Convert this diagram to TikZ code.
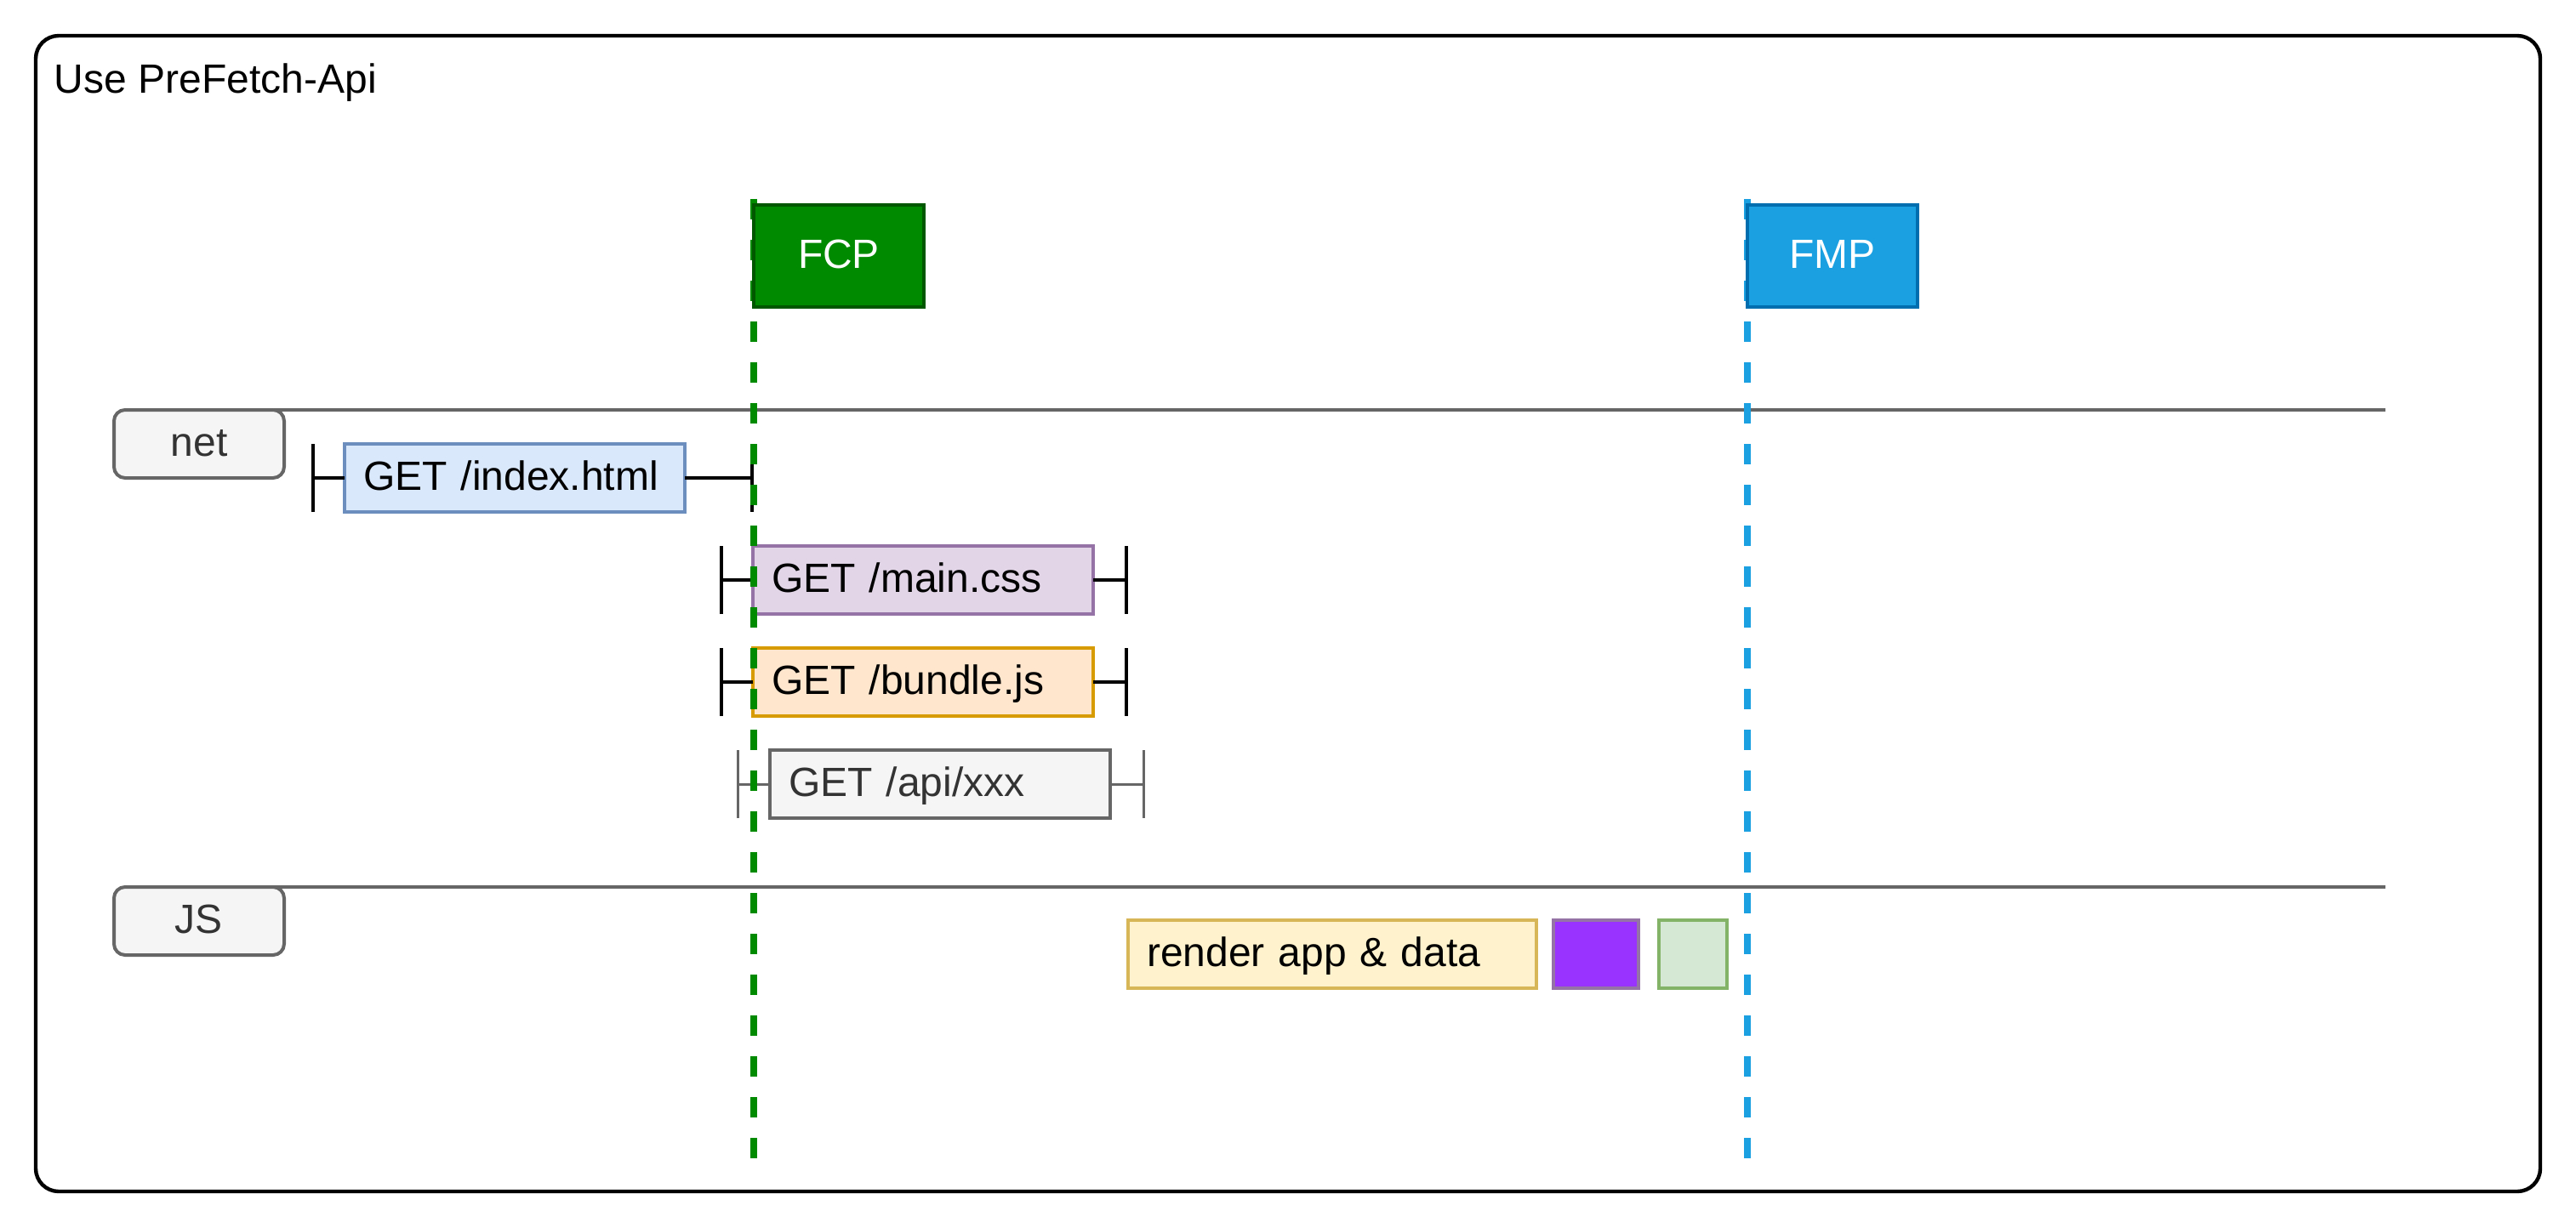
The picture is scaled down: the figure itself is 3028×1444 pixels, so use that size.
\documentclass[tikz,border=0pt]{standalone}
\usepackage{fontspec}
\setmainfont{Liberation Sans}
\usetikzlibrary{arrows.meta}

\definecolor{fcpfill}{HTML}{008A00}
\definecolor{fcpdraw}{HTML}{005700}
\definecolor{fmpfill}{HTML}{1BA1E2}
\definecolor{fmpdraw}{HTML}{006EAF}
\definecolor{lanegray}{HTML}{666666}
\definecolor{labelfill}{HTML}{F5F5F5}
\definecolor{labeltext}{HTML}{333333}
\definecolor{htmlfill}{HTML}{DAE8FC}
\definecolor{htmldraw}{HTML}{6C8EBF}
\definecolor{cssfill}{HTML}{E1D5E7}
\definecolor{cssdraw}{HTML}{9673A6}
\definecolor{jsfill}{HTML}{FFE6CC}
\definecolor{jsdraw}{HTML}{D79B00}
\definecolor{renderfill}{HTML}{FFF2CC}
\definecolor{renderdraw}{HTML}{D6B656}
\definecolor{violet}{HTML}{9933FF}
\definecolor{donefill}{HTML}{D5E8D4}
\definecolor{donedraw}{HTML}{82B366}

\begin{document}
\begin{tikzpicture}[x=0.25pt, y=-0.25pt,
		every node/.style={font=\fontsize{12}{14}\selectfont, inner sep=0pt, outer sep=0pt, text height=9pt, text depth=2pt},
		box/.style={draw, line width=1pt, anchor=north west, minimum width=100pt, minimum height=20pt},
		req/.style={box, text width=89pt, inner xsep=5.5pt, align=left},
		lanelabel/.style={box, fill=labelfill, draw=lanegray, text=labeltext, minimum width=50pt, rounded corners=3.25pt},
		lane/.style={draw=lanegray, line width=0.9pt},
		tick/.style={line width=1pt, -{Bar[width=20pt]}},
		marker/.style={box, text=white, minimum width=50pt, minimum height=30pt},
		timeline/.style={line width=2pt, dash pattern=on 6pt off 6pt}]
				\useasboundingbox (0,0) rectangle (3028,1444);

				% Frame
				\draw[line width=1.1pt, rounded corners=6.75pt] (42,42) rectangle (2986,1401);
				\node[anchor=base west] (title) at (64,110) {Use PreFetch-Api};

				% Lanes
				\coordinate (netend) at (2804,482);
				\coordinate (jsend) at (2804,1043);
				\node[lanelabel] (net) at (134,482) {net};
				\node[lanelabel] (js) at (134,1043) {JS};
				\draw[lane] ([xshift=-3.25pt]net.north east) -- (netend);
				\draw[lane] ([xshift=-3.25pt]js.north east) -- (jsend);

				% Requests
				\node[req, fill=htmlfill, draw=htmldraw] (index) at (405,522) {GET /index.html};
				\node[req, fill=cssfill, draw=cssdraw] (css) at (885,642) {GET /main.css};
				\node[req, fill=jsfill, draw=jsdraw] (bundle) at (885,762) {GET /bundle.js};
				\node[req, fill=labelfill, draw=lanegray, text=labeltext] (api) at (905,882) {GET /api/xxx};

				% Request spans
				\coordinate (indexL) at (366,562);
				\coordinate (indexR) at (886,562);
				\coordinate (cssL) at (846,682);
				\coordinate (cssR) at (1326,682);
				\coordinate (bundleL) at (846,802);
				\coordinate (bundleR) at (1326,802);
				\coordinate (apiL) at (866,922);
				\coordinate (apiR) at (1346,922);
				\draw[tick] (index.west) -- (indexL);
				\draw[tick] (index.east) -- (indexR);
				\draw[tick] (css.west) -- (cssL);
				\draw[tick] (css.east) -- (cssR);
				\draw[tick] (bundle.west) -- (bundleL);
				\draw[tick] (bundle.east) -- (bundleR);
				\draw[tick, lanegray, line width=0.75pt] (api.west) -- (apiL);
				\draw[tick, lanegray, line width=0.75pt] (api.east) -- (apiR);

				% JS work
				\node[req, fill=renderfill, draw=renderdraw, text width=109pt] (render) at (1326,1082) {render app \& data};
				\node[box, fill=violet, draw=cssdraw, minimum width=25pt] (exec) at (1826,1082) {};
				\node[box, fill=donefill, draw=donedraw, minimum width=20pt] (done) at (1950,1082) {};

				% Paint lines
				\coordinate (fcptop) at (886,234);
				\coordinate (fcpbot) at (886,1362);
				\coordinate (fmptop) at (2054,234);
				\coordinate (fmpbot) at (2054,1362);
				\draw[timeline, fcpfill] (fcptop) -- (fcpbot);
				\draw[timeline, fmpfill] (fmptop) -- (fmpbot);

				% Paint markers
				\node[marker, fill=fcpfill, draw=fcpdraw] (fcp) at (886,241) {FCP};
				\node[marker, fill=fmpfill, draw=fmpdraw] (fmp) at (2054,241) {FMP};
			\end{tikzpicture}
\end{document}
